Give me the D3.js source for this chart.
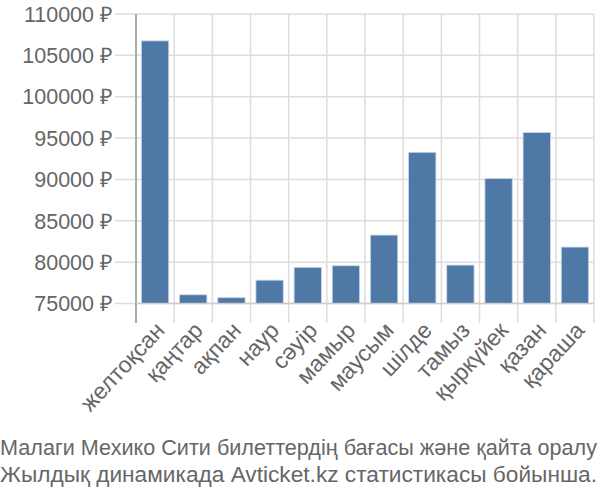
<!DOCTYPE html>
<html><head><meta charset="utf-8">
<script src="https://cdn.jsdelivr.net/npm/d3@7"></script>
<style>body{margin:0;background:#fff}svg{display:block}</style>
</head><body>
<svg id="c" width="600" height="500"></svg>
<script>
const months = ["желтоқсан","қаңтар","ақпан","наур","сәуір","мамыр","маусым","шілде","тамыз","қыркүйек","қазан","қараша"];
const prices = [106750, 76050, 75700, 77820, 79360, 79560, 83270, 93280, 79640, 90100, 95670, 81820];
const yTicks = [75000, 80000, 85000, 90000, 95000, 100000, 105000, 110000];
const caption = ["Малаги Мехико Сити билеттердің бағасы және қайта оралу", "Жылдық динамикада Avticket.kz статистикасы бойынша."];

const svg = d3.select("#c");
const font = "'Liberation Sans', Arial, sans-serif";
const L = 136, R = 594, T = 14, B = 303.5;
const x = d3.scaleBand().domain(months).range([L, R]).paddingInner(0.285).paddingOuter(0.1425);
const y = d3.scaleLinear().domain([75000, 110000]).range([B, T]);
const step = x.step();

// horizontal grid + tick labels
const gy = svg.append("g");
gy.selectAll("line").data(yTicks).join("line")
  .attr("x1", 115).attr("x2", R).attr("y1", d => y(d)).attr("y2", d => y(d))
  .attr("stroke", "#ddd").attr("stroke-width", 1.5);
gy.selectAll("text").data(yTicks).join("text")
  .attr("x", 113).attr("y", d => y(d)).attr("dy", "0.36em")
  .attr("text-anchor", "end").attr("font-family", font).attr("font-size", 21.5)
  .attr("fill", "#666").text(d => d + " ₽");

// vertical grid at band boundaries
const vb = d3.range(months.length + 1).map(i => L + i * step);
svg.append("g").selectAll("line").data(vb).join("line")
  .attr("x1", d => d).attr("x2", d => d).attr("y1", T).attr("y2", 323)
  .attr("stroke", (d, i) => i === 0 ? "#aaa" : "#ddd").attr("stroke-width", (d, i) => i === 0 ? 2 : 1.5);

// bars
svg.append("g").selectAll("rect").data(months).join("rect")
  .attr("x", d => x(d)).attr("width", x.bandwidth())
  .attr("y", (d, i) => y(prices[i])).attr("height", (d, i) => B - y(prices[i]))
  .attr("fill", "#4e79a7").attr("stroke", "#c6d4e6").attr("stroke-width", 0.8);

// bottom axis line
svg.append("line").attr("x1", L).attr("x2", R).attr("y1", B).attr("y2", B)
  .attr("stroke", "#ccc").attr("stroke-width", 1.5);

// x labels
svg.append("g").selectAll("text").data(months).join("text")
  .attr("transform", d => `translate(${x(d) + x.bandwidth() / 2 + 5},${326}) rotate(-47)`)
  .attr("text-anchor", "end").attr("dy", "0.35em")
  .attr("font-family", font).attr("font-size", 23).attr("fill", "#666").text(d => d);

// caption
svg.append("g").selectAll("text").data(caption).join("text")
  .attr("x", 0).attr("y", (d, i) => 455 + i * 26.5)
  .attr("textLength", 597).attr("lengthAdjust", "spacingAndGlyphs")
  .attr("font-family", font).attr("font-size", 21.5).attr("fill", "#666").text(d => d);
</script>
</body></html>
